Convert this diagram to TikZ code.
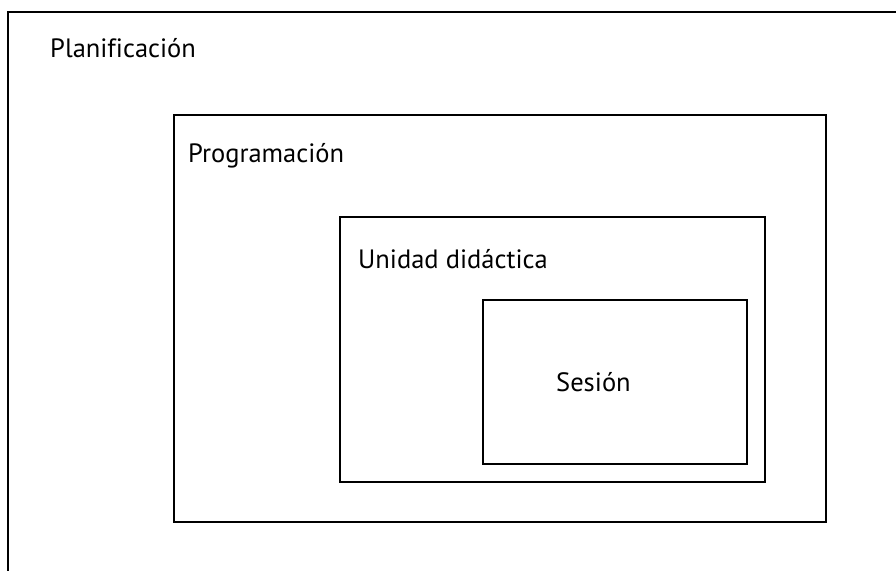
\documentclass[tikz,border=0pt]{standalone}
\usepackage{fontspec}
\setmainfont[Ligatures=NoCommon]{PT Sans}
\begin{document}
\begin{tikzpicture}[x=1pt,y=-1pt,
    box/.style={draw,line width=2.5pt},
    lbl/.style={anchor=base west,inner sep=0pt,font=\fontsize{26.5}{30}\selectfont}]
    \useasboundingbox (0,0) rectangle (896,570);
    \clip (0,0) rectangle (896,570);

    % Outer frame (cut off at right and bottom)
    \draw[box] (8,580) -- (8,12) -- (906,12);

    % Nested boxes
    \draw[box] (174,115) rectangle (826,522);
    \draw[box] (340,217) rectangle (765,482);
    \draw[box] (483,300) rectangle (747,464);

    % Labels
    \node[lbl] (plan) at (50,57) {Planificación};
    \node[lbl] (prog) at (188,162) {Programación};
    \node[lbl] (unid) at (358,268) {Unidad didáctica};
    \node[lbl] (ses) at (556,391) {Sesión};
\end{tikzpicture}
\end{document}
